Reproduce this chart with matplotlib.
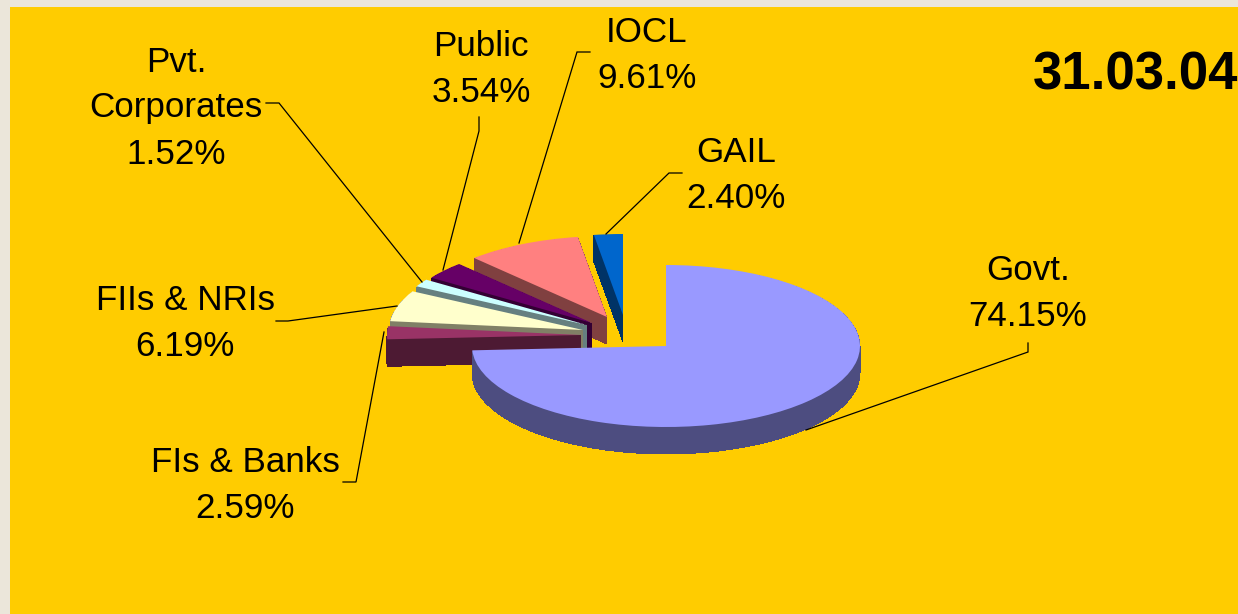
import numpy as np
import matplotlib
matplotlib.use("Agg")
import matplotlib.pyplot as plt
from matplotlib.colors import to_rgb
from matplotlib.patches import Rectangle

plt.rcParams["font.family"] = ["Liberation Sans", "DejaVu Sans"]

# Slices in drawing order of the pie, clockwise from 12 o'clock
names = ["Govt.", "FIs & Banks", "FIIs & NRIs", "Pvt.\nCorporates", "Public", "IOCL", "GAIL"]
shares = [74.15, 2.59, 6.19, 1.52, 3.54, 9.61, 2.40]
colors = ["#9999ff", "#993366", "#ffffcc", "#ccffff", "#660066", "#ff8080", "#0066cc"]
date_label = "31.03.04"

W, H = 1238, 614
# Pie geometry in pixels: ellipse radii and height of the side wall
RX, RY, DEPTH = 194, 81, 27
SQUASH = RY / RX

# Where the point of each slice sits, in pixels
tips = [(666, 346), (581, 335), (583, 330), (587, 325), (592, 323), (607, 317), (623, 315)]
# Centre of each label block, in pixels
label_pos = [(1028, 294), (245, 485), (185, 323), (176, 108), (481, 69), (647, 55), (736, 176)]
# Leader lines, in pixels
leaders = [
    [(1028, 343), (1028, 352), (806, 430)],
    [(343, 482), (356, 482), (384, 332)],
    [(276, 321), (288, 321), (397, 306)],
    [(266, 103), (279, 103), (422, 282)],
    [(479, 117), (479, 131), (443, 270)],
    [(590, 52), (577, 52), (519, 243)],
    [(682, 173), (669, 173), (606, 234)],
]


def draw_slice(ax, value, start, tip, color):
    """ Draw one slice of the 3D pie as a stack of flat wedges. """
    wall = tuple(c * 0.5 for c in to_rgb(color))
    for offset in np.arange(DEPTH, 0, -1):
        ax.pie([value, 100 - value], colors=[wall, "none"], startangle=start, counterclock=False,
               radius=RX, center=(tip[0], (H - tip[1] - offset) / SQUASH),
               wedgeprops={"linewidth": 0, "antialiased": False}, frame=True)
    ax.pie([value, 100 - value], colors=[color, "none"], startangle=start, counterclock=False,
           radius=RX, center=(tip[0], (H - tip[1]) / SQUASH),
           wedgeprops={"linewidth": 0}, frame=True)


fig = plt.figure(figsize=(W / 100, H / 100), dpi=100, facecolor="#ebe6da")

# Yellow panel, kept behind the axes
fig.add_artist(Rectangle((10 / W, 0), 1 - 10 / W, 1 - 7 / H, transform=fig.transFigure,
                         facecolor="#ffcc00", edgecolor="none", zorder=-1))

# Pie axes: y data is stretched so a circle in data comes out as the flat ellipse
pie_ax = fig.add_axes([0, 0, 1, 1], facecolor="none")
starts = 90 - 3.6 * np.concatenate(([0], np.cumsum(shares)[:-1]))
# Back slices first, the big Govt. slice goes on top of the rest
for i in range(len(shares) - 1, -1, -1):
    draw_slice(pie_ax, shares[i], starts[i], tips[i], colors[i])
pie_ax.set_aspect("auto")
pie_ax.set_xlim(0, W)
pie_ax.set_ylim(0, H / SQUASH)
pie_ax.set_axis_off()

# Overlay in pixel coordinates for the labels and leader lines
ax = fig.add_axes([0, 0, 1, 1], facecolor="none")
ax.set_xlim(0, W)
ax.set_ylim(H, 0)
ax.set_axis_off()

for name, share, pos, line in zip(names, shares, label_pos, leaders):
    ax.text(pos[0], pos[1], f"{name}\n{share:.2f}%", ha="center", va="center", ma="center",
            fontsize=25.2, color="black", linespacing=1.5)
    xs, ys = zip(*line)
    ax.plot(xs, ys, color="black", lw=0.9, solid_joinstyle="miter")

ax.text(1238, 75, date_label, ha="right", va="center", fontsize=38, fontweight="bold", color="black")

fig.savefig("out.png", dpi=100, facecolor=fig.get_facecolor())
